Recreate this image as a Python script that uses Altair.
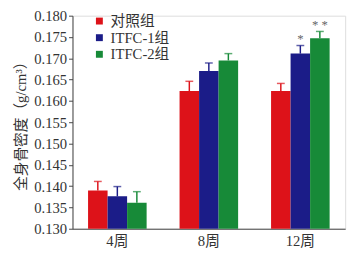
import altair as alt
import pandas as pd

weeks = ["4周", "8周", "12周"]
groups = ["对照组", "ITFC-1组", "ITFC-2组"]
colors = ["#dd1219", "#1b1c88", "#178a38"]
values = {
    "对照组": [0.1390, 0.1623, 0.1623],
    "ITFC-1组": [0.1376, 0.1670, 0.1711],
    "ITFC-2组": [0.1361, 0.1695, 0.1747],
}
errors = {
    "对照组": [0.0021, 0.0023, 0.0018],
    "ITFC-1组": [0.0023, 0.0019, 0.0019],
    "ITFC-2组": [0.0026, 0.0016, 0.0016],
}
marks = {("12周", "ITFC-1组"): "*", ("12周", "ITFC-2组"): "* *"}
y_ticks = [0.130, 0.135, 0.140, 0.145, 0.150, 0.155, 0.160, 0.165, 0.170, 0.175, 0.180]

rows = []
for g in groups:
    for i, w in enumerate(weeks):
        v = values[g][i]
        e = errors[g][i]
        rows.append({"week": w, "group": g, "value": v, "upper": v + e,
                     "sig": marks.get((w, g), "")})
df = pd.DataFrame(rows)

serif = "Liberation Serif, Noto Sans CJK SC"

x = alt.X("week:N", sort=weeks, title=None,
          scale=alt.Scale(paddingInner=0.36, paddingOuter=0.17))
xo = alt.XOffset("group:N", sort=groups, scale=alt.Scale(paddingInner=0, paddingOuter=0))
cscale = alt.Scale(domain=groups, range=colors)
yscale = alt.Scale(domain=[0.130, 0.180], zero=False, nice=False)
yaxis = alt.Axis(values=y_ticks, format=".3f")
ytitle = "全身骨密度（g/cm³）"

base = alt.Chart(df)
bars = base.mark_bar(clip=True).encode(
    x=x, xOffset=xo,
    y=alt.Y("value:Q", title=ytitle, scale=yscale, axis=yaxis),
    color=alt.Color("group:N", sort=groups, scale=cscale,
                    legend=alt.Legend(title=None, orient="none", legendX=20, legendY=-2)),
)
rules = base.mark_rule(strokeWidth=1.5).encode(
    x=x, xOffset=xo, y=alt.Y("value:Q", title=ytitle, scale=yscale, axis=yaxis),
    y2="upper:Q",
    color=alt.Color("group:N", sort=groups, scale=cscale, legend=None),
)
caps = base.mark_tick(thickness=1.5, size=8).encode(
    x=x, xOffset=xo, y=alt.Y("upper:Q", title=ytitle, scale=yscale, axis=yaxis),
    color=alt.Color("group:N", sort=groups, scale=cscale, legend=None),
)
stars = base.mark_text(dy=-7, fontSize=13, font=serif).encode(
    x=x, xOffset=xo, y=alt.Y("upper:Q", title=ytitle, scale=yscale, axis=yaxis),
    text="sig:N",
    color=alt.value("#666666"),
)

chart = alt.layer(bars, rules, caps, stars).properties(
    width=279, height=218,
    autosize=alt.AutoSizeParams(type="none"),
    padding={"left": 66, "top": 5, "right": 8, "bottom": 24},
).configure_view(stroke=None).configure(background="white").configure_axis(
    grid=False, labelFont=serif, labelFontSize=15, labelColor="#333",
    domainColor="#444", tickColor="#444",
    titleFont=serif, titleFontSize=15, titleFontWeight="normal", titleColor="#333",
).configure_axisX(
    labelAngle=0, ticks=False, labelPadding=5, labelOverlap=False
).configure_axisY(
    tickSize=4, titlePadding=5, labelOverlap=False, labelPadding=2
).configure_legend(
    symbolType="square", symbolSize=50, symbolStrokeWidth=0,
    labelFont=serif, labelFontSize=15, labelColor="#333", rowPadding=1,
)

chart.save("out.html", embed_options={"renderer": "svg", "actions": False})
